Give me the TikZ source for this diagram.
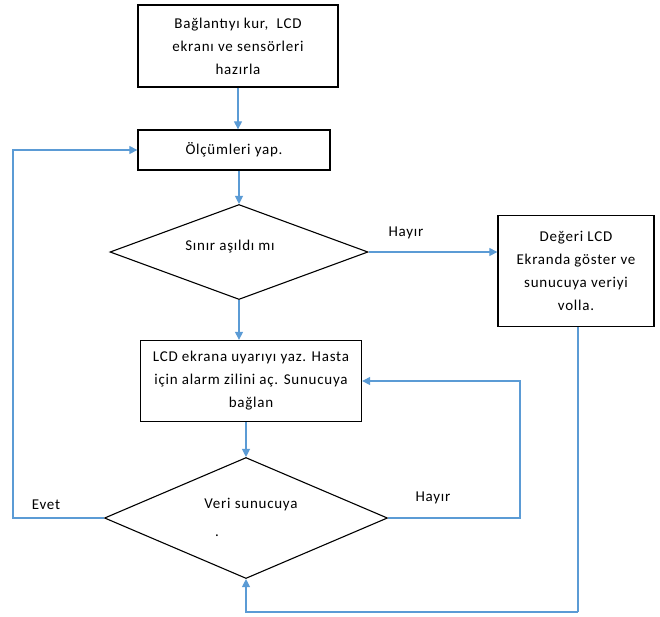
\documentclass[tikz,border=0pt]{standalone}
\usepackage{fontspec}
\setmainfont[LetterSpace=5]{Carlito}
\usetikzlibrary{shapes.geometric,arrows.meta}
\definecolor{flowblue}{HTML}{5B9BD5}
\begin{document}
\begin{tikzpicture}[x=1pt,y=-1pt,
  box/.style={draw,line width=1.3pt,align=center,inner sep=0pt},
  decision/.style={draw,diamond,line width=1.1pt,inner sep=0pt},
  flow/.style={draw,flowblue,line width=1.1pt,-{Triangle[length=8pt,width=8pt]}},
  line/.style={draw,flowblue,line width=1.1pt},
  font=\fontsize{15}{23}\selectfont]
\useasboundingbox (0,0) rectangle (660,616);

\node[box,minimum width=200pt,minimum height=82pt] (setup) at (238,46) {Bağlantıyı kur,\ \ LCD\\ ekranı ve sensörleri\\ hazırla};
\node[box,minimum width=192pt,minimum height=40pt] (measure) at (234,150) {Ölçümleri yap.};
\node[decision,minimum width=258pt,minimum height=95pt] (limit) at (239,252) {};
\node (limittext) at (230,247) {Sınır aşıldı mı};
\node[box,minimum width=156pt,minimum height=111pt] (show) at (576,271) {Değeri LCD\\ Ekranda göster ve\\ sunucuya veriyi\\ volla.};
\node[box,minimum width=221pt,minimum height=81pt] (alarm) at (251,381) {LCD ekrana uyarıyı yaz. Hasta\\ için alarm zilini aç. Sunucuya\\ bağlan};
\node[decision,minimum width=283pt,minimum height=121pt] (sent) at (246,518) {};
\node (senttext) at (251,505) {Veri sunucuya};
\node (dot) at (217,536) {.};

\node (hayir1) at (406,233) {Hayır};
\node (evet) at (46,505) {Evet};
\node (hayir2) at (433,498) {Hayır};

\coordinate (evetturn) at (13,518);
\coordinate (retryturn) at (520,518);
\coordinate (showturn) at (578,612);

\path[flow] (setup.south) -- (setup.south |- measure.north);
\path[flow] (limit.north |- measure.south) -- (limit.north);
\path[flow] (limit.south) -- (limit.south |- alarm.north);
\path[flow] (limit.east) -- (limit.east -| show.west);
\path[flow] (sent.north |- alarm.south) -- (sent.north);

\path[flow] (sent.west) -- (evetturn) |- (measure.west);
\path[flow] (sent.east) -- (retryturn) |- (alarm.east);
\path[line] (showturn |- show.south) -- (showturn);
\path[flow] (showturn) -| (sent.south);
\end{tikzpicture}
\end{document}
